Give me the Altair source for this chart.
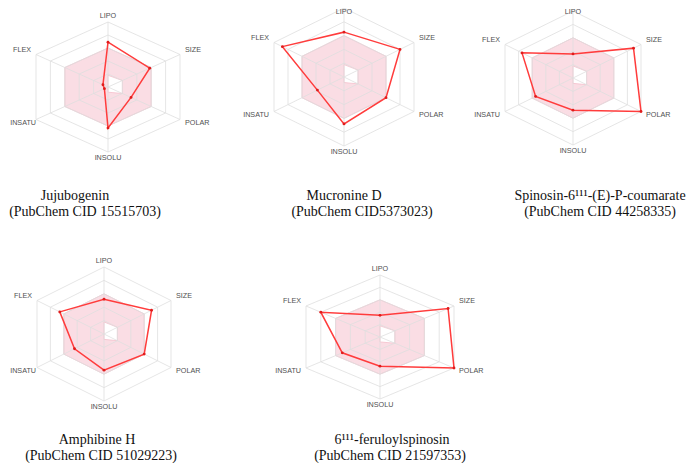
import math
import altair as alt
import pandas as pd

# ---------------- data ----------------
AXES = ["LIPO", "SIZE", "POLAR", "INSOLU", "INSATU", "FLEX"]
NAMES = ["Jujubogenin", "Mucronine D", "Spinosin-6¹¹¹-(E)-P-coumarate",
         "Amphibine H", "6¹¹¹-feruloylspinosin"]
CIDS = ["(PubChem CID 15515703)", "(PubChem CID5373023)", "(PubChem CID 44258335)",
        "(PubChem CID 51029223)", "(PubChem CID 21597353)"]

V_JUJUBOGENIN = [0.69, 0.58, 0.32, 0.63, 0.05, 0.07]
V_MUCRONINE = [0.65, 0.80, 0.60, 0.68, 0.38, 0.88]
V_SPINOSIN = [0.36, 0.89, 1.00, 0.48, 0.55, 0.75]
V_AMPHIBINE = [0.52, 0.71, 0.60, 0.54, 0.44, 0.66]
V_FERULOYL = [0.35, 0.92, 1.00, 0.47, 0.51, 0.80]
VALUES = [V_JUJUBOGENIN, V_MUCRONINE, V_SPINOSIN, V_AMPHIBINE, V_FERULOYL]

OPT_HIGH = [0.6, 0.6, 0.6, 0.6, 0.6, 0.6]
OPT_LOW = [0.18, 0.2, 0.2, 0.08, 0.0, 0.0]
GRID_LEVELS = [0.2, 0.4, 0.6, 0.8, 1.0]

# ---------------- layout (page pixels) ----------------
PANELS = [
    dict(cx=108, cy=87, rx=72, ry=65, t1x=75, t2x=85, ty=196),
    dict(cx=344, cy=77, rx=70, ry=69, t1x=344, t2x=362, ty=196),
    dict(cx=573, cy=78, rx=68, ry=67, t1x=600, t2x=600, ty=196),
    dict(cx=104, cy=334, rx=67, ry=67, t1x=97, t2x=101, ty=440),
    dict(cx=380, cy=337, rx=74, ry=62, t1x=392, t2x=390, ty=440),
]
W, H = 681, 455
LEFT, TOP, BOTTOM = 8, 8, 8 + H

xs = alt.Scale(domain=[LEFT, LEFT + W], nice=False, zero=False)
ys = alt.Scale(domain=[TOP, BOTTOM], nice=False, zero=False, reverse=True)


def poly_rows(kind, per_panel_values, key_suffix=""):
    rows = []
    for p, (lay, vals) in enumerate(zip(PANELS, per_panel_values)):
        for i, v in enumerate(vals):
            rows.append(dict(key=f"{kind}{p}{key_suffix}", panel=p, i=i, v=v,
                             cx=lay["cx"], cy=lay["cy"], rx=lay["rx"], ry=lay["ry"]))
    return rows


CALC = dict(
    px="datum.cx + datum.rx * datum.v * sin(datum.i * PI / 3) / sin(PI / 3)",
    py="datum.cy - datum.ry * datum.v * cos(datum.i * PI / 3)",
)
X = alt.X("px:Q", scale=xs, axis=None)
Y = alt.Y("py:Q", scale=ys, axis=None)

df_hi = pd.DataFrame(poly_rows("hi", [OPT_HIGH] * 5))
df_lo = pd.DataFrame(poly_rows("lo", [OPT_LOW] * 5))
grid_rows = []
for lev in GRID_LEVELS:
    grid_rows += poly_rows("g", [[lev] * 6] * 5, key_suffix=f"_{lev}")
df_grid = pd.DataFrame(grid_rows)
df_spoke = pd.DataFrame(poly_rows("s", [[1.0] * 6] * 5))
df_vals = pd.DataFrame(poly_rows("d", VALUES))

pink = (alt.Chart(df_hi).transform_calculate(**CALC)
        .mark_line(interpolate="linear-closed", fill="#fadde4", stroke="#f5bfcb", strokeWidth=0.8)
        .encode(x=X, y=Y, order="i:Q", detail="key:N"))
hole = (alt.Chart(df_lo).transform_calculate(**CALC)
        .mark_line(interpolate="linear-closed", fill="#ffffff", stroke="#f5bfcb", strokeWidth=0.8)
        .encode(x=X, y=Y, order="i:Q", detail="key:N"))
grid = (alt.Chart(df_grid).transform_calculate(**CALC)
        .mark_line(interpolate="linear-closed", stroke="#dedede", strokeWidth=0.8)
        .encode(x=X, y=Y, order="i:Q", detail="key:N"))
spokes = (alt.Chart(df_spoke).transform_calculate(**CALC)
          .mark_rule(stroke="#dedede", strokeWidth=0.8)
          .encode(x=alt.X("cx:Q", scale=xs, axis=None), y=alt.Y("cy:Q", scale=ys, axis=None),
                  x2="px:Q", y2="py:Q"))
line = (alt.Chart(df_vals).transform_calculate(**CALC)
        .mark_line(interpolate="linear-closed", stroke="#ff3c3c", strokeWidth=1.5)
        .encode(x=X, y=Y, order="i:Q", detail="key:N"))
pts = (alt.Chart(df_vals).transform_calculate(**CALC)
       .mark_point(filled=True, color="#e01c1c", size=8, opacity=1)
       .encode(x=X, y=Y))

# axis labels (kept inside the drawable page area)
lab_rows = []
for p, lay in enumerate(PANELS):
    cx, cy, rx, ry = lay["cx"], lay["cy"], lay["rx"], lay["ry"]
    pos = [
        (cx, max(cy - ry - 6, TOP + 4), "center"),
        (cx + rx + 5, cy - ry / 2 - 5, "left"),
        (cx + rx + 5, cy + ry / 2 + 3, "left"),
        (cx, cy + ry + 6, "center"),
        (max(cx - rx - 5, LEFT + 28), cy + ry / 2 + 3, "right"),
        (cx - rx - 5, cy - ry / 2 - 5, "right"),
    ]
    for name, (lx, ly, al) in zip(AXES, pos):
        lab_rows.append(dict(label=name, lx=lx, ly=ly, al=al))
df_lab = pd.DataFrame(lab_rows)

labels = []
for al in ["center", "left", "right"]:
    labels.append(
        alt.Chart(df_lab[df_lab.al == al])
        .mark_text(align=al, baseline="middle", font="Liberation Sans", fontSize=7.2, color="#505050")
        .encode(x=alt.X("lx:Q", scale=xs, axis=None), y=alt.Y("ly:Q", scale=ys, axis=None),
                text="label:N")
    )

cap_rows = []
for p, lay in enumerate(PANELS):
    cap_rows.append(dict(t=NAMES[p], tx=lay["t1x"], ty=lay["ty"]))
    cap_rows.append(dict(t=CIDS[p], tx=lay["t2x"], ty=lay["ty"] + 16))
df_cap = pd.DataFrame(cap_rows)
captions = (alt.Chart(df_cap)
            .mark_text(align="center", baseline="middle", font="Liberation Serif", fontSize=14, color="#111111")
            .encode(x=alt.X("tx:Q", scale=xs, axis=None), y=alt.Y("ty:Q", scale=ys, axis=None),
                    text="t:N"))

chart = (alt.layer(pink, hole, grid, spokes, line, pts, *labels, captions)
         .properties(width=W, height=H, padding=0, autosize="none", background="white")
         .configure_view(stroke=None))

chart.save("out.html", embed_options={"renderer": "svg", "actions": False})
